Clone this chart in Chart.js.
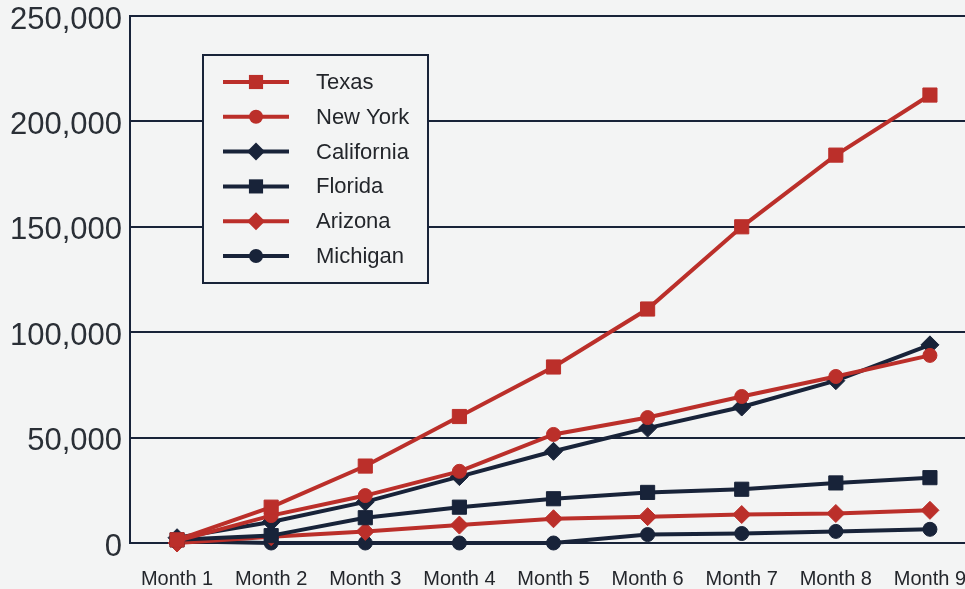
<!DOCTYPE html>
<html>
<head>
<meta charset="utf-8">
<script src="https://cdn.jsdelivr.net/npm/chart.js@4.4.0/dist/chart.umd.min.js"></script>
<style>
  html, body { margin: 0; padding: 0; background: #f3f4f4; overflow: hidden; }
  #wrap { width: 988px; height: 589px; }
</style>
</head>
<body>
<div id="wrap"><canvas id="salesChart" width="988" height="589"></canvas></div>
<script>
// chart data
const months = ["Month 1", "Month 2", "Month 3", "Month 4", "Month 5", "Month 6", "Month 7", "Month 8", "Month 9"];
const texas = [1500, 17000, 36500, 60000, 83500, 111000, 150000, 184000, 212500];
const newYork = [1000, 13000, 22500, 34000, 51500, 59500, 69500, 79000, 89000];
const california = [2500, 10000, 19500, 31500, 43500, 54500, 64500, 77000, 94000];
const florida = [1500, 3500, 12000, 17000, 21000, 24000, 25500, 28500, 31000];
const arizona = [0, 3000, 5500, 8500, 11500, 12500, 13500, 14000, 15500];
const michigan = [800, 0, 0, 0, 0, 4000, 4500, 5500, 6500];
const yTicks = [0, 50000, 100000, 150000, 200000, 250000];

const RED = "#bb2f2a";
const NAVY = "#182339";
const BG = "#f3f4f4";

function series(label, data, color, style, radius) {
  return {
    label: label,
    data: data,
    borderColor: color,
    backgroundColor: color,
    borderWidth: 4,
    pointStyle: style,
    pointRadius: radius,
    pointBorderWidth: 1,
    tension: 0,
    clip: false,
  };
}

// draws one marker for the legend
function marker(ctx, style, x, y, r) {
  ctx.beginPath();
  if (style === "rect") {
    const s = Math.SQRT1_2 * r;
    ctx.rect(x - s, y - s, 2 * s, 2 * s);
  } else if (style === "rectRot") {
    ctx.moveTo(x - r, y);
    ctx.lineTo(x, y - r);
    ctx.lineTo(x + r, y);
    ctx.lineTo(x, y + r);
    ctx.closePath();
  } else {
    ctx.arc(x, y, r, 0, Math.PI * 2);
  }
  ctx.fill();
}

// boxed legend inside the plot area
const boxLegend = {
  id: "boxLegend",
  afterDraw(chart) {
    const ctx = chart.ctx;
    ctx.save();
    ctx.fillStyle = BG;
    ctx.fillRect(203, 55, 225, 228);
    ctx.strokeStyle = NAVY;
    ctx.lineWidth = 2;
    ctx.strokeRect(203, 55, 225, 228);
    chart.data.datasets.forEach((ds, i) => {
      const y = 82 + i * 34.8;
      ctx.strokeStyle = ds.borderColor;
      ctx.lineWidth = 4;
      ctx.beginPath();
      ctx.moveTo(223, y);
      ctx.lineTo(289, y);
      ctx.stroke();
      ctx.fillStyle = ds.borderColor;
      marker(ctx, ds.pointStyle, 256, y, ds.pointRadius);
      ctx.fillStyle = "#23262b";
      ctx.font = "22px 'Liberation Sans', sans-serif";
      ctx.textBaseline = "middle";
      ctx.textAlign = "left";
      ctx.fillText(ds.label, 316, y + 1);
    });
    ctx.restore();
  },
};

new Chart(document.getElementById("salesChart"), {
  type: "line",
  data: {
    labels: months,
    datasets: [
      series("Texas", texas, RED, "rect", 10),
      series("New York", newYork, RED, "circle", 7),
      series("California", california, NAVY, "rectRot", 9),
      series("Florida", florida, NAVY, "rect", 10),
      series("Arizona", arizona, RED, "rectRot", 9),
      series("Michigan", michigan, NAVY, "circle", 7),
    ],
  },
  options: {
    responsive: false,
    animation: false,
    layout: { padding: { top: 16, right: 4, left: 0, bottom: 0 } },
    plugins: { legend: { display: false }, tooltip: { enabled: false } },
    scales: {
      x: {
        offset: true,
        grid: { display: false },
        border: { display: true, color: NAVY, width: 2 },
        ticks: {
          color: "#23262b",
          padding: 16,
          maxRotation: 0,
          autoSkip: false,
          font: { family: "'Liberation Sans', sans-serif", size: 20 },
        },
        afterFit: (scale) => {
          scale.height = 46;
          scale.paddingLeft = 0;
          scale.paddingRight = 0;
        },
      },
      y: {
        min: 0,
        max: 250000,
        afterBuildTicks: (scale) => { scale.ticks = yTicks.map((v) => ({ value: v })); },
        grid: { color: NAVY, lineWidth: 2, drawTicks: false },
        border: { display: true, color: NAVY, width: 2 },
        ticks: {
          color: "#2a2f36",
          padding: 8,
          labelOffset: 4,
          font: { family: "'Liberation Sans', sans-serif", size: 31 },
          callback: (v) => v.toLocaleString("en-US"),
        },
        afterFit: (scale) => {
          scale.width = 130;
          scale.paddingTop = 0;
          scale.paddingBottom = 0;
        },
      },
    },
  },
  plugins: [boxLegend],
});
</script>
</body>
</html>
